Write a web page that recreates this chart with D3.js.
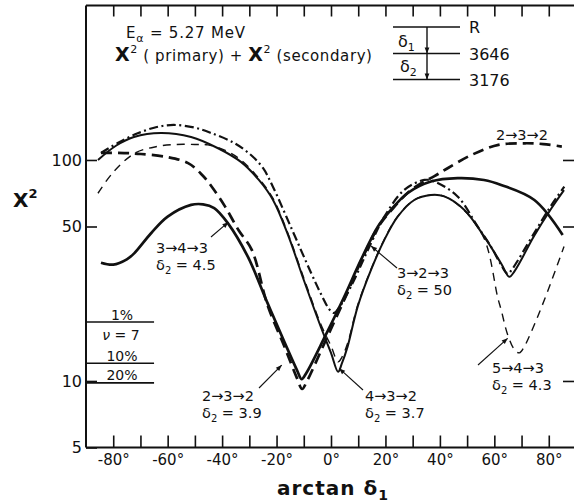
<!DOCTYPE html>
<html>
<head>
<meta charset="utf-8">
<script src="https://cdn.jsdelivr.net/npm/d3@7"></script>
<style>
  body { margin: 0; background: #fff; }
  svg { display: block; }
  text { font-family: "DejaVu Sans", sans-serif; fill: #111; }
</style>
</head>
<body>
<svg id="chart" width="574" height="502"></svg>
<script>
// tick values
const degTicks = d3.range(-80, 81, 10)
const degLabels = [-80, -60, -40, -20, 0, 20, 40, 60, 80]
const chiTicks = [5, 10, 50, 100]
const chiRightTicks = [10, 50, 100]

// chi-square confidence levels for nu = 7
const levelLabels = ["1%", "10%", "20%"]
const levelValues = [18.48, 12.02, 9.8]

// [arctan delta1 (deg), chi^2]
const seq343 = [
  [-84.5, 34.3], [-80, 33.6], [-75, 35.5], [-72.3, 37.8], [-66.1, 46.6], [-60, 55.4],
  [-51.4, 62.6], [-47, 63], [-42.9, 60.6], [-37.9, 51.8], [-30.6, 36.6], [-23.3, 22.5],
  [-16.9, 14.8], [-12.5, 11.2], [-10.8, 10.2], [-9, 10.9], [-2.2, 15.9], [4.9, 24.1],
  [11, 35.3], [17.2, 49.9], [22, 59.4], [28.2, 70.9], [36.7, 79.9], [46.5, 82.8],
  [56.2, 81.2], [62.5, 77.1], [74.7, 65.9], [85.1, 45.8]
]
const seq232 = [
  [-84.5, 107.6], [-76, 107.5], [-69.8, 106.4], [-60, 103], [-52.5, 96.8], [-47.5, 86],
  [-43.8, 75.7], [-38.9, 61.5], [-34, 48.2], [-29.1, 39.2], [-23.3, 22], [-17, 14.2],
  [-12.5, 10.3], [-10.6, 9.2], [-8.8, 10], [-2, 15.2], [5.2, 23.8], [11.2, 35.2],
  [17.4, 49.9], [22.3, 59.5], [28.4, 71.5], [33.5, 79], [38, 84.5], [43, 92],
  [51.7, 105.5], [61.5, 117], [71.3, 119], [78, 118], [84.8, 115]
]
const seq323 = [
  [-84.5, 107.6], [-78, 120], [-71, 132], [-64, 141], [-57.7, 144], [-50, 140],
  [-44.1, 132.5], [-35.6, 119.4], [-29.4, 105.3], [-25, 92], [-21.3, 75.5], [-14.7, 49.6],
  [-7.3, 30.8], [-3.5, 24.5], [-0.5, 21], [1.1, 20.3], [3, 21.5], [7.3, 26.7],
  [14.7, 42], [19.6, 55.4], [26.9, 73.2], [34.3, 81.2], [38, 79.9], [46.5, 68.4],
  [53.9, 49.9], [58.8, 40.5], [62.5, 33.5], [64.9, 30.5], [66.5, 32], [74.7, 46.8],
  [80.8, 62], [85.7, 75.7]
]
const seq432 = [
  [-85.6, 100], [-79, 116], [-72.4, 127], [-62.5, 132.5], [-51.4, 127], [-41.5, 113],
  [-33.1, 98], [-26.5, 81.2], [-21.3, 65.9], [-15.8, 45.8], [-9.9, 28.4], [-3.7, 17.5],
  [0, 13.4], [2.6, 11], [4, 12], [6.1, 14.3], [9.8, 21.7], [14.7, 31.8],
  [19.6, 43.5], [24.5, 55.4], [30.6, 65.9], [36.7, 69.4], [41.6, 68.4], [49, 59.4],
  [56.3, 45], [62.5, 34], [65.5, 29.6], [67.5, 31.5], [74.7, 45.5], [80.8, 60],
  [85.6, 73]
]
const seq543 = [
  [-85.6, 70.7], [-80, 88], [-72, 107.4], [-64, 115], [-57, 117.5], [-50, 117.5],
  [-45.2, 117], [-38.5, 110], [-33.1, 100], [-26.5, 82.5], [-21.3, 67], [-15.8, 46.5],
  [-9.9, 29], [-3.7, 18], [0, 14.4], [2.6, 12.2], [4, 12.8], [6.1, 14.8],
  [9.8, 22], [14.7, 32], [19.6, 43.8], [24.5, 55.6], [30.6, 66], [36.7, 69.5],
  [41.6, 68.5], [49, 59], [56.3, 44], [61.2, 24], [62.5, 21], [64.9, 16.2],
  [67.5, 13.8], [69.2, 13.4], [71, 14.3], [73.5, 16.6], [78.4, 23.3], [85.6, 40.6]
]

const svg = d3.select("#chart")
const x = d3.scaleLinear().domain([-90, 90]).range([86, 576])
const y = d3.scaleLog().domain([5, 500]).range([447.5, 5.5])

svg.append("defs").append("marker")
  .attr("id", "tip")
  .attr("viewBox", "0 0 10 10")
  .attr("refX", 10).attr("refY", 5)
  .attr("markerWidth", 8).attr("markerHeight", 6)
  .attr("markerUnits", "userSpaceOnUse")
  .attr("orient", "auto")
  .append("path").attr("d", "M0,1 L10,5 L0,9 Z").attr("fill", "#111")

// axes
function strip(g) {
  g.select(".domain").remove()
  g.selectAll(".tick line").attr("stroke", "#111").attr("stroke-width", 1.6)
}
svg.append("g")
  .attr("transform", "translate(0,447.5)")
  .call(d3.axisBottom(x).tickValues(degTicks).tickSize(-12).tickPadding(7)
    .tickFormat((d) => (degLabels.includes(d) ? `${d}°` : "")))
  .call(strip)
  .selectAll("text").attr("font-size", 15).attr("fill", "#111")
svg.append("g")
  .attr("transform", "translate(0,5.5)")
  .call(d3.axisTop(x).tickValues(degTicks).tickSize(-11).tickFormat(""))
  .call(strip)
svg.append("g")
  .attr("transform", "translate(86,0)")
  .call(d3.axisLeft(y).tickValues(chiTicks).tickSize(-11).tickPadding(4)
    .tickFormat(d3.format("d")))
  .call(strip)
  .selectAll("text").attr("font-size", 16).attr("fill", "#111")
svg.append("g")
  .attr("transform", "translate(575,0)")
  .call(d3.axisRight(y).tickValues(chiRightTicks).tickSize(-12).tickFormat(""))
  .call(strip)

// frame
const frame = svg.append("g").attr("stroke", "#111").attr("stroke-width", 2)
frame.append("line").attr("x1", 86).attr("x2", 86).attr("y1", 5.5).attr("y2", 447.5)
frame.append("line").attr("x1", 86).attr("x2", 576).attr("y1", 5.5).attr("y2", 5.5)
frame.append("line").attr("x1", 86).attr("x2", 576).attr("y1", 447.5).attr("y2", 447.5)

// confidence levels
const lv = svg.append("g")
levelValues.forEach((v, i) => {
  lv.append("line")
    .attr("x1", x(-90)).attr("x2", x(-65))
    .attr("y1", y(v)).attr("y2", y(v))
    .attr("stroke", "#111").attr("stroke-width", 1.6)
  lv.append("text")
    .attr("x", 122).attr("y", y(v) - 2.5)
    .attr("text-anchor", "middle").attr("font-size", 14)
    .text(levelLabels[i])
})
lv.append("text")
  .attr("x", 121).attr("y", 340)
  .attr("text-anchor", "middle").attr("font-size", 14)
  .html('<tspan font-style="italic">ν</tspan> = 7')

// curves
const line = d3.line()
  .x((d) => x(d[0]))
  .y((d) => y(d[1]))
  .curve(d3.curveCatmullRom.alpha(0.5))

const curves = [
  {data: seq343, width: 2.7, dash: null},
  {data: seq232, width: 2.7, dash: "11,6"},
  {data: seq323, width: 2.2, dash: "9,3.5,2,3.5"},
  {data: seq432, width: 2, dash: null},
  {data: seq543, width: 1.4, dash: "8,6"}
]
svg.append("g")
  .selectAll("path")
  .data(curves)
  .join("path")
  .attr("d", (c) => line(c.data))
  .attr("fill", "none")
  .attr("stroke", "#111")
  .attr("stroke-width", (c) => c.width)
  .attr("stroke-dasharray", (c) => c.dash)
  .attr("stroke-linejoin", "round")

// labels with leaders: text position (px), leader tail (px), tip on curve (data)
const notes = [
  {seq: "3→4→3", d2: "4.5", tx: 156, ty: 253, tail: [211, 237], tip: [-37.7, 52.3]},
  {seq: "3→2→3", d2: "50", tx: 397, ty: 278, tail: [397, 268], tip: [14.7, 40.8]},
  {seq: "2→3→2", d2: "3.9", tx: 202, ty: 401, tail: [259, 388], tip: [-18.1, 11.8]},
  {seq: "4→3→2", d2: "3.7", tx: 365, ty: 401, tail: [363, 390], tip: [3, 11.4]},
  {seq: "5→4→3", d2: "4.3", tx: 492, ty: 373, tail: [478, 365], tip: [64.9, 15.6]}
]
const ann = svg.append("g")
notes.forEach((n) => {
  ann.append("text").attr("x", n.tx).attr("y", n.ty).attr("font-size", 14.5).text(n.seq)
  ann.append("text").attr("x", n.tx).attr("y", n.ty + 17).attr("font-size", 14.5)
    .html(`δ<tspan font-size="10" dy="4">2</tspan><tspan dy="-4"> = ${n.d2}</tspan>`)
  ann.append("line")
    .attr("x1", n.tail[0]).attr("y1", n.tail[1])
    .attr("x2", x(n.tip[0])).attr("y2", y(n.tip[1]))
    .attr("stroke", "#111").attr("stroke-width", 1.1)
    .attr("marker-end", "url(#tip)")
})
ann.append("text").attr("x", 496).attr("y", 140).attr("font-size", 14.5).text("2→3→2")

// header
svg.append("text").attr("x", 126).attr("y", 37.5).attr("font-size", 15)
  .attr("letter-spacing", 0.8)
  .html('E<tspan font-size="11" dy="4">α</tspan><tspan dy="-4"> = 5.27 MeV</tspan>')
svg.append("text").attr("x", 115).attr("y", 61).attr("font-size", 15)
  .attr("letter-spacing", 0.6)
  .html('<tspan font-size="19" font-weight="bold">Χ</tspan><tspan font-size="11" dy="-8">2</tspan>' +
    '<tspan dy="8"> ( primary) + </tspan>' +
    '<tspan font-size="19" font-weight="bold">Χ</tspan><tspan font-size="11" dy="-8">2</tspan>' +
    '<tspan dy="8"> (secondary)</tspan>')

// level scheme
const lvl = svg.append("g")
const levelY = [27, 53.5, 79.5]
const levelNames = ["R", "3646", "3176"]
levelY.forEach((ly, i) => {
  lvl.append("line").attr("x1", 393).attr("x2", 460).attr("y1", ly).attr("y2", ly)
    .attr("stroke", "#111").attr("stroke-width", 1.6)
  lvl.append("text").attr("x", 469).attr("y", ly + 6).attr("font-size", 16).text(levelNames[i])
})
lvl.append("line").attr("x1", 427).attr("x2", 427).attr("y1", 27).attr("y2", 53.5)
  .attr("stroke", "#111").attr("stroke-width", 1.4).attr("marker-end", "url(#tip)")
lvl.append("line").attr("x1", 427).attr("x2", 427).attr("y1", 53.5).attr("y2", 79.5)
  .attr("stroke", "#111").attr("stroke-width", 1.4).attr("marker-end", "url(#tip)")
lvl.append("text").attr("x", 398).attr("y", 47).attr("font-size", 16)
  .html('δ<tspan font-size="11" dy="4">1</tspan>')
lvl.append("text").attr("x", 400).attr("y", 72).attr("font-size", 16)
  .html('δ<tspan font-size="11" dy="4">2</tspan>')

// axis titles
svg.append("text").attr("x", 13).attr("y", 207).attr("font-size", 20).attr("font-weight", "bold")
  .html('Χ<tspan font-size="13" dy="-9">2</tspan>')
svg.append("text").attr("x", 277).attr("y", 495).attr("font-size", 20).attr("font-weight", "bold")
  .attr("letter-spacing", 1)
  .html('arctan δ<tspan font-size="14" dy="5">1</tspan>')
</script>
</body>
</html>
